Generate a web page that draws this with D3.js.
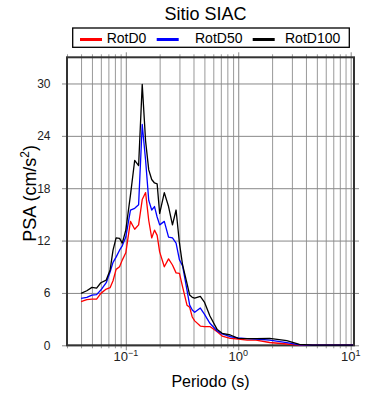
<!DOCTYPE html>
<html>
<head>
<meta charset="utf-8">
<script src="https://cdn.jsdelivr.net/npm/d3@7"></script>
<style>
  body { margin: 0; background: #fff; }
  svg { font-family: "Liberation Sans", Arial, Helvetica, sans-serif; }
</style>
</head>
<body>
<svg id="chart" width="390" height="400"></svg>
<script>
// periods (s) and PSA (cm/s2)
const periods = [0.04, 0.045, 0.05, 0.055, 0.06, 0.067, 0.0725, 0.077, 0.082, 0.088, 0.093, 0.1,
  0.11, 0.12, 0.13, 0.14, 0.15, 0.16, 0.17, 0.18, 0.19, 0.2, 0.22, 0.24, 0.26, 0.28, 0.3, 0.32,
  0.35, 0.37, 0.39, 0.41, 0.46, 0.5, 0.56, 0.65, 0.72, 0.85, 1.0, 1.2, 1.44, 1.9, 2.7, 3.5,
  4.6, 6.5, 10.5];
const rotD0 = [5.0, 5.24, 5.28, 5.3, 5.95, 6.44, 6.6, 7.4, 8.7, 9.0, 9.76, 10.6,
  14.2, 13.3, 13.8, 16.7, 17.5, 14.3, 12.3, 13.2, 12.6, 10.7, 9.0, 9.9, 9.2, 8.3, 8.24, 6.7,
  4.6, 4.35, 3.24, 2.8, 2.2, 2.15, 2.15, 1.56, 1.06, 0.8, 0.72, 0.6, 0.6, 0.32, 0.15, 0.03,
  0.03, 0.03, 0.03];
const rotD50 = [5.38, 5.5, 5.76, 5.8, 6.33, 7.17, 8.4, 9.5, 10.1, 10.9, 11.4, 12.4,
  15.5, 15.7, 16.1, 25.3, 21.2, 16.6, 15.5, 15.9, 14.7, 13.8, 14.2, 12.4, 12.3, 11.7, 9.8, 9.1,
  6.33, 4.6, 4.05, 3.78, 4.27, 3.58, 2.52, 1.64, 1.3, 0.98, 0.84, 0.76, 0.72, 0.6, 0.3, 0.05,
  0.03, 0.03, 0.03];
const rotD100 = [5.95, 6.25, 6.64, 6.56, 7.17, 7.47, 8.62, 10.9, 12.3, 12.25, 11.7, 13.2,
  17.2, 21.2, 20.6, 29.9, 23.4, 20.1, 19.0, 18.6, 18.5, 15.1, 17.5, 15.9, 13.8, 15.5, 11.7, 9.2,
  7.1, 5.75, 5.5, 5.4, 5.6, 4.95, 3.35, 1.8, 1.37, 1.18, 0.8, 0.76, 0.76, 0.8, 0.53, 0.11,
  0.03, 0.03, 0.03];

const seriesNames = ["RotD0", "RotD50", "RotD100"];
const seriesColors = ["#ff0000", "#0000ff", "#000000"];
const yTicks = [0, 6, 12, 18, 24, 30];
const xDomain = [0.03, 10.7];
const yDomain = [0, 33];

const svg = d3.select("#chart");
const margin = { left: 67, right: 36, top: 57.3, bottom: 54.7 };
const width = 390 - margin.left - margin.right;
const height = 400 - margin.top - margin.bottom;

const x = d3.scaleLog().domain(xDomain).range([0, width]);
const y = d3.scaleLinear().domain(yDomain).range([height, 0]);

const plot = svg.append("g").attr("transform", `translate(${margin.left},${margin.top})`);

// vertical grid, sticking out past the frame as ticks
const xGridTicks = x.ticks().filter(t => t >= xDomain[0] && t <= xDomain[1]);
const isMajor = t => Math.abs(Math.log10(t) - Math.round(Math.log10(t))) < 1e-9;

plot.append("g")
  .attr("transform", `translate(0,${height + 3})`)
  .call(d3.axisBottom(x).tickValues(xGridTicks.filter(t => !isMajor(t))).tickSize(-(height + 6)).tickFormat(""))
  .call(g => g.select(".domain").remove())
  .call(g => g.selectAll("line").attr("stroke", "#999").attr("stroke-width", 1));

plot.append("g")
  .attr("transform", `translate(0,${height + 5})`)
  .call(d3.axisBottom(x).tickValues(xGridTicks.filter(isMajor)).tickSize(-(height + 10)).tickFormat(""))
  .call(g => g.select(".domain").remove())
  .call(g => g.selectAll("line").attr("stroke", "#888").attr("stroke-width", 1));

// horizontal grid
plot.append("g")
  .attr("transform", "translate(-5,0)")
  .call(d3.axisLeft(y).tickValues(yTicks).tickSize(-(width + 10)).tickFormat(""))
  .call(g => g.select(".domain").remove())
  .call(g => g.selectAll("line").attr("stroke", "#888").attr("stroke-width", 1));

// frame
plot.append("rect")
  .attr("width", width).attr("height", height)
  .attr("fill", "none").attr("stroke", "#333").attr("stroke-width", 2);

// y tick labels
plot.append("g").selectAll("text")
  .data(yTicks)
  .join("text")
  .attr("x", -16.5)
  .attr("y", d => y(d))
  .attr("dy", "0.36em")
  .attr("text-anchor", "end")
  .attr("font-size", 12)
  .attr("fill", "#222")
  .text(d => d);

// x tick labels 10^n
const xLabels = plot.append("g").selectAll("text")
  .data(xGridTicks.filter(isMajor))
  .join("text")
  .attr("x", d => x(d))
  .attr("y", height + 15.4)
  .attr("text-anchor", "middle")
  .attr("font-size", 13)
  .attr("fill", "#222");
xLabels.append("tspan").text("10");
xLabels.append("tspan")
  .attr("dy", -5)
  .attr("font-size", 9)
  .text(d => { const e = Math.round(Math.log10(d)); return e < 0 ? "\u2212" + (-e) : e; });

// axis titles
svg.append("text")
  .attr("x", margin.left + width / 2)
  .attr("y", 387)
  .attr("text-anchor", "middle")
  .attr("font-size", 16)
  .text("Periodo (s)");

const yTitle = svg.append("text")
  .attr("transform", `translate(36,${margin.top + height / 2 - 8}) rotate(-90)`)
  .attr("text-anchor", "middle")
  .attr("font-size", 18);
yTitle.append("tspan").text("PSA (cm/s");
yTitle.append("tspan").attr("dy", -7).attr("font-size", 12).text("2");
yTitle.append("tspan").attr("dy", 7).text(")");

// title
svg.append("text")
  .attr("x", 205.5)
  .attr("y", 20)
  .attr("text-anchor", "middle")
  .attr("font-size", 18)
  .text("Sitio SIAC");

// series
const allSeries = [rotD0, rotD50, rotD100];
const line = d3.line()
  .x(d => x(d[0]))
  .y(d => y(d[1]));

plot.append("g").selectAll("path")
  .data(allSeries)
  .join("path")
  .attr("d", vals => line(periods.map((p, i) => [p, vals[i]])))
  .attr("fill", "none")
  .attr("stroke", (d, i) => seriesColors[i])
  .attr("stroke-width", 1.3)
  .attr("stroke-linejoin", "round");

// legend
const legend = svg.append("g");
legend.append("rect")
  .attr("x", 72.7).attr("y", 28)
  .attr("width", 276.6).attr("height", 19.3)
  .attr("fill", "#fff").attr("stroke", "#000").attr("stroke-width", 1.3);

const legendLineX = [80, 156.7, 252.7];
const legendTextX = [106.7, 195, 285];
const items = legend.selectAll("g.item")
  .data(seriesNames)
  .join("g")
  .attr("class", "item");
items.append("line")
  .attr("x1", (d, i) => legendLineX[i])
  .attr("x2", (d, i) => legendLineX[i] + 22)
  .attr("y1", 39.5).attr("y2", 39.5)
  .attr("stroke", (d, i) => seriesColors[i])
  .attr("stroke-width", 3);
items.append("text")
  .attr("x", (d, i) => legendTextX[i])
  .attr("y", 43.3)
  .attr("font-size", 14)
  .text(d => d);
</script>
</body>
</html>
